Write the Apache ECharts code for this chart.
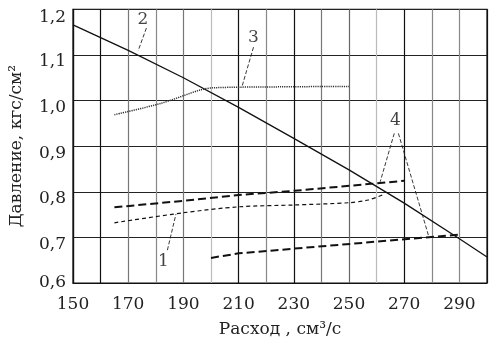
<!DOCTYPE html>
<html><head><meta charset="utf-8">
<script src="https://cdn.jsdelivr.net/npm/echarts@6/dist/echarts.min.js"></script>
<style>html,body{margin:0;padding:0;background:#fff}#c{width:493px;height:343px}</style>
</head><body><div id="c"></div>
<script>
// Data
const x2 = [150,170,190,210,230,250,270,290,300];
const y2 = [1.166,1.110,1.050,0.985,0.917,0.848,0.775,0.697,0.657];
const x3 = [165,182,196,201,225,250];
const y3 = [0.969,0.994,1.023,1.028,1.030,1.031];
const x1 = [165,190,210,230,250,257,262.5];
const y1 = [0.732,0.754,0.767,0.771,0.776,0.782,0.794];
const x4a = [165,190,210,230,270];
const y4a = [0.766,0.780,0.793,0.802,0.824];
const x4b = [200,210,290];
const y4b = [0.655,0.665,0.706];
const xTicks = [150,170,190,210,230,250,270,290];
const yTicks = [0.6,0.7,0.8,0.9,1.0,1.1,1.2];
const curveLabels = ['1','2','3','4'];
const labelPos = {'1':[182.8,0.648],'2':[175.3,1.177],'3':[215.4,1.138],'4':[266.8,0.955]};
const leaders = [
  [[184.2,0.672],[187.3,0.751]],
  [[176.6,1.159],[173.6,1.109]],
  [[215.4,1.117],[211.2,1.030]],
  [[266.4,0.928],[261.3,0.822]],
  [[267.9,0.928],[278.8,0.704]]
];

const zip = (xs, ys) => xs.map((x,i)=>[x,ys[i]]);
const font = '"DejaVu Serif", "Liberation Serif", serif';
const chart = echarts.init(document.getElementById('c'), null, {renderer:'canvas'});

const series = [
  {type:'line', data: zip(x2,y2), showSymbol:false, smooth:false, lineStyle:{color:'#111', width:1.3, type:'solid'}},
  {type:'line', data: zip(x3,y3), showSymbol:false, smooth:0.3, lineStyle:{color:'#333', width:1.5, type:[1.2,1]}},
  {type:'line', data: zip(x1,y1), showSymbol:false, smooth:0.3, lineStyle:{color:'#111', width:1.2, type:[4,3]}},
  {type:'line', data: zip(x4a,y4a), showSymbol:false, lineStyle:{color:'#111', width:2, type:[8,4]}},
  {type:'line', data: zip(x4b,y4b), showSymbol:false, lineStyle:{color:'#111', width:2, type:[8,4]}}
];
leaders.forEach(l => series.push({type:'line', data:l, showSymbol:false, silent:true,
  lineStyle:{color:'#222', width:0.9, type:[4,2]}}));
series.push({type:'scatter', symbolSize:0, silent:true,
  data: curveLabels.map(k => ({value: labelPos[k], name:k})),
  label:{show:true, position:'inside', formatter: p => p.name, fontFamily:font, fontSize:17, color:'#111'}});

const xSplitColors = ['#111','#111','#777','#888','#777','#bbb','#111','#888','#111','#777','#666','#bbb','#111','#888','#888','#111'];

chart.setOption({
  animation:false,
  backgroundColor:'#fff',
  grid:{left:72.7, right:6, top:9.3, bottom:54.7, show:true, borderColor:'#111', borderWidth:1.2, containLabel:false},
  xAxis:{type:'value', min:150, max:300, interval:10,
    axisLine:{show:true, lineStyle:{color:'#111', width:1.2}}, axisTick:{show:false},
    splitLine:{show:true, lineStyle:{color:xSplitColors, width:1.2}},
    axisLabel:{fontFamily:font, fontSize:17, color:'#222', margin:13,
      formatter: v => xTicks.includes(v) ? String(v) : ''},
    name:'Расход , см³/с', nameLocation:'middle', nameGap:38,
    nameTextStyle:{fontFamily:font, fontSize:17, color:'#222', padding:[0,0,0,0]}
  },
  yAxis:{type:'value', min:0.6, max:1.2, interval:0.1,
    axisLine:{show:true, lineStyle:{color:'#111', width:1.2}}, axisTick:{show:false},
    splitLine:{show:true, lineStyle:{color:'#222', width:1.1}},
    axisLabel:{fontFamily:font, fontSize:17, color:'#222', margin:7,
      formatter: v => {
        const r = Math.round(v*10)/10;
        const s = r.toFixed(1).replace('.', ',');
        if (r === 1.2) return '{t|' + s + '}';
        if (r === 0.6) return '{b|' + s + '}';
        return yTicks.some(t => Math.abs(t-r)<1e-6) ? '{m|' + s + '}' : '';
      },
      rich:{
        t:{fontFamily:font, fontSize:17, color:'#222', padding:[16,0,0,0]},
        m:{fontFamily:font, fontSize:17, color:'#222', padding:[14,0,0,0]},
        b:{fontFamily:font, fontSize:17, color:'#222', padding:[0,0,1,0]}
      }
    },
    name:'Давление, кгс/см²', nameLocation:'middle', nameGap:48, nameRotate:90,
    nameTextStyle:{fontFamily:font, fontSize:17, color:'#222'}
  },
  series: series
});
</script></body></html>
